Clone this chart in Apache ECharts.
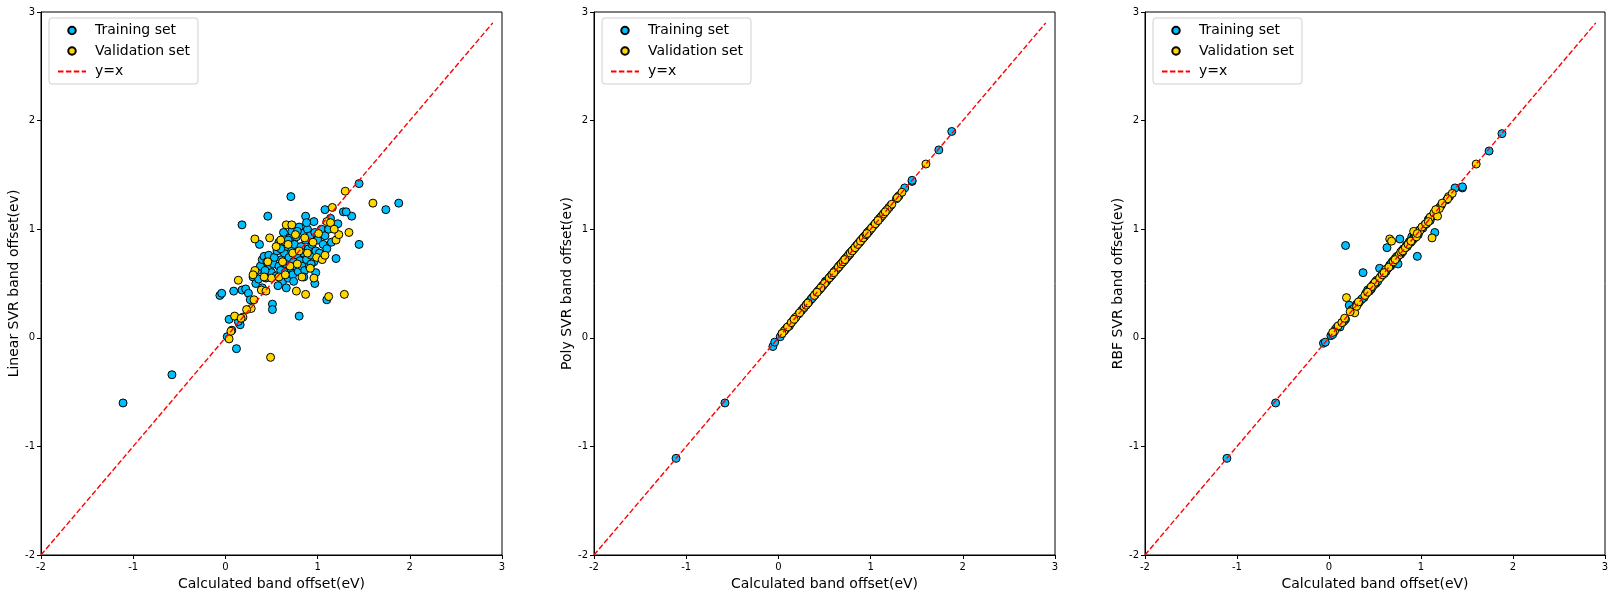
<!DOCTYPE html>
<html>
<head>
<meta charset="utf-8">
<script src="https://cdn.jsdelivr.net/npm/echarts@6/dist/echarts.min.js"></script>
<style>
html,body{margin:0;padding:0;background:#fff;}
#chart{width:1614px;height:597px;}
</style>
</head>
<body>
<div id="chart"></div>
<script>
// ---- Data ----
const panelTitles = ["Linear SVR band offset(ev)", "Poly SVR band offset(ev)", "RBF SVR band offset(ev)"];
const xAxisTitle = "Calculated band offset(eV)";
const tickValues = [-2, -1, 0, 1, 2, 3];

// Training set: calculated offsets
const calcTrain = [-1.11,-0.58,-0.06,-0.04,0.02,0.04,0.12,0.09,0.18,0.22,0.25,0.27,0.18,0.46,0.37,0.71,0.51,0.51,1.10,0.80,1.45,1.45,1.88,1.74,1.37,1.28,1.31,1.08,0.87,0.96,1.17,1.22,1.20,0.97,
0.35,0.38,0.40,0.42,0.44,0.45,0.47,0.48,0.50,0.52,0.53,0.55,0.56,0.58,0.58,0.60,0.61,0.62,0.63,0.64,0.65,0.66,0.67,0.68,0.69,0.70,0.71,0.72,0.72,0.73,0.74,0.75,0.76,0.77,0.78,0.79,0.80,0.81,0.82,0.83,0.84,0.85,0.86,0.87,0.88,0.89,0.90,0.91,0.92,0.93,0.94,0.96,0.97,0.98,1.00,1.02,1.04,1.06,1.08,1.10,1.12,1.15,
0.57,0.66,0.74,0.85,0.98,0.30,0.33,0.36,0.40,0.43,0.60,0.68,0.78,0.88,0.93,1.14,0.16,0.07,0.14];
// Training set: Linear SVR predictions
const linearTrain = [-0.60,-0.34,0.39,0.41,0.01,0.17,-0.10,0.43,0.44,0.45,0.41,0.35,1.04,1.12,0.86,1.30,0.31,0.26,0.35,0.20,1.42,0.86,1.24,1.18,1.12,1.16,1.16,1.18,1.12,1.07,1.04,1.05,0.73,0.50,
0.62,0.66,0.72,0.75,0.55,0.70,0.76,0.64,0.60,0.68,0.74,0.57,0.80,0.66,0.88,0.62,0.72,0.52,0.97,0.78,0.60,0.68,0.84,0.55,0.74,0.92,0.64,0.98,0.80,0.58,0.70,0.86,0.66,0.93,0.76,0.61,1.02,0.71,0.84,0.66,0.96,0.78,0.62,0.90,0.72,1.00,0.82,0.66,0.94,0.76,0.86,0.70,0.97,0.80,0.90,0.78,1.00,0.86,0.94,0.82,1.00,0.88,
0.48,0.46,0.52,0.56,0.60,0.56,0.50,0.54,0.46,0.62,0.82,0.90,0.98,1.06,0.68,1.10,0.12,0.07,0.15];
// Training set: Poly SVR predictions
const polyTrain = [-1.11,-0.60,-0.08,-0.04,0.01,0.04,0.11,0.09,0.18,0.22,0.25,0.27,0.18,0.46,0.37,0.71,0.51,0.52,1.10,0.80,1.44,1.45,1.90,1.73,1.38,1.28,1.31,1.08,0.87,0.96,1.17,1.22,1.20,0.97,
0.35,0.38,0.40,0.42,0.44,0.45,0.47,0.48,0.50,0.52,0.53,0.55,0.56,0.58,0.58,0.60,0.61,0.62,0.63,0.64,0.65,0.66,0.67,0.68,0.69,0.70,0.71,0.72,0.72,0.73,0.74,0.75,0.76,0.77,0.78,0.79,0.80,0.81,0.82,0.83,0.84,0.85,0.86,0.87,0.88,0.89,0.90,0.91,0.92,0.93,0.94,0.96,0.97,0.98,1.00,1.02,1.04,1.06,1.08,1.10,1.12,1.15,
0.57,0.66,0.74,0.85,0.98,0.30,0.33,0.36,0.40,0.43,0.60,0.68,0.78,0.88,0.93,1.14,0.16,0.07,0.14];
// Training set: RBF SVR predictions
const rbfTrain = [-1.11,-0.60,-0.05,-0.04,0.02,0.03,0.10,0.10,0.85,0.30,0.26,0.27,0.17,0.45,0.60,0.70,0.50,0.52,1.08,0.79,1.38,1.39,1.88,1.72,1.38,1.27,1.30,1.09,0.88,0.96,1.18,1.22,1.20,0.95,
0.35,0.37,0.40,0.44,0.43,0.46,0.47,0.49,0.50,0.53,0.52,0.64,0.56,0.58,0.59,0.60,0.62,0.61,0.83,0.64,0.65,0.67,0.66,0.68,0.70,0.71,0.70,0.73,0.72,0.74,0.74,0.68,0.76,0.91,0.78,0.80,0.80,0.82,0.82,0.83,0.85,0.84,0.86,0.87,0.89,0.88,0.93,0.90,0.92,0.94,0.94,0.75,0.97,0.98,1.00,1.01,1.04,1.05,1.08,1.11,1.12,0.97,
0.57,0.66,0.75,0.85,0.99,0.31,0.33,0.36,0.41,0.43,0.59,0.69,0.77,0.88,0.92,1.13,0.15,0.08,0.14];

// Validation set: calculated offsets
const calcVal = [1.30,1.60,1.34,1.29,0.49,0.06,0.04,0.10,0.19,0.14,0.28,0.31,0.32,0.30,0.32,0.39,0.44,0.48,0.66,0.87,1.10,1.20,1.23,0.77,1.12,0.17,0.23,
0.50,0.55,0.58,0.62,0.65,0.68,0.70,0.73,0.76,0.78,0.80,0.83,0.86,0.89,0.92,0.95,0.99,1.01,1.05,1.08,1.14,1.18,0.60,0.46,0.42,0.72,0.96,1.16];
// Validation set: Linear SVR predictions
const linearVal = [1.35,1.24,0.97,0.40,-0.18,0.06,-0.01,0.20,0.19,0.53,0.27,0.35,0.62,0.58,0.91,0.44,0.43,0.92,1.04,0.40,1.07,0.90,0.95,0.43,0.38,0.18,0.26,
0.55,0.84,0.56,0.70,0.58,0.86,0.66,0.78,0.95,0.68,0.80,0.56,0.92,0.78,0.64,0.88,0.74,0.96,0.72,0.76,1.06,1.00,0.90,0.70,0.56,1.04,0.55,1.20];
// Validation set: Poly SVR predictions
const polyVal = [1.30,1.60,1.34,1.29,0.49,0.06,0.04,0.10,0.19,0.14,0.28,0.31,0.32,0.30,0.32,0.39,0.44,0.48,0.66,0.87,1.10,1.20,1.23,0.77,1.12,0.17,0.23,
0.50,0.55,0.58,0.62,0.65,0.68,0.70,0.73,0.76,0.78,0.80,0.83,0.86,0.89,0.92,0.95,0.99,1.01,1.05,1.08,1.14,1.18,0.60,0.46,0.42,0.72,0.96,1.16];
// Validation set: RBF SVR predictions
const rbfVal = [1.30,1.60,1.33,1.28,0.50,0.06,0.05,0.11,0.37,0.14,0.23,0.31,0.32,0.29,0.33,0.39,0.44,0.48,0.91,0.87,1.11,1.19,1.24,0.77,0.92,0.18,0.24,
0.51,0.55,0.58,0.63,0.65,0.89,0.70,0.73,0.76,0.79,0.80,0.83,0.86,0.89,0.98,0.93,0.99,1.02,1.05,1.07,1.15,1.12,0.60,0.47,0.42,0.72,0.96,1.18];

// Reference line y = x
const refLine = [[-2, -2], [2.9, 2.9]];

const seriesNames = ["Training set", "Validation set", "y=x"];
const trainColor = "#00BFFF";
const valColor = "#FFD700";
const lineColor = "#FF0000";

function pairs(xs, ys) { return xs.map((x, i) => [x, ys[i]]); }

const panels = [
  { train: pairs(calcTrain, linearTrain), val: pairs(calcVal, linearVal) },
  { train: pairs(calcTrain, polyTrain),   val: pairs(calcVal, polyVal) },
  { train: pairs(calcTrain, rbfTrain),    val: pairs(calcVal, rbfVal) }
];

const gridLefts = [41, 594, 1145];
const gridWidths = [461, 461, 460];
const fontFam = "DejaVu Sans";

const grids = [], xAxes = [], yAxes = [], series = [], legends = [];
panels.forEach((p, i) => {
  grids.push({ left: gridLefts[i], top: 12, width: gridWidths[i], height: 543,
    show: true, borderColor: "#000", borderWidth: 1, backgroundColor: "transparent" });
  const axisCommon = {
    type: "value", min: -2, max: 3, interval: 1,
    splitLine: { show: false },
    axisLine: { show: true, onZero: false, lineStyle: { color: "#000", width: 1 } },
    axisTick: { show: true, length: 4, lineStyle: { color: "#000" } },
    axisLabel: { color: "#000", fontSize: 10, fontFamily: fontFam, margin: 6,
      formatter: v => String(v) },
    nameLocation: "middle",
    nameTextStyle: { color: "#000", fontSize: 14, fontFamily: fontFam }
  };
  xAxes.push(Object.assign({}, axisCommon, { gridIndex: i, name: xAxisTitle, nameGap: 21,
    axisLabel: Object.assign({}, axisCommon.axisLabel, { margin: 7 }) }));
  yAxes.push(Object.assign({}, axisCommon, { gridIndex: i, name: panelTitles[i], nameGap: 19 }));
  series.push({
    name: seriesNames[0], type: "scatter", xAxisIndex: i, yAxisIndex: i,
    data: p.train, symbol: "circle", symbolSize: 8,
    itemStyle: { color: trainColor, borderColor: "#000", borderWidth: 1, opacity: 1 },
    emphasis: { disabled: true }, z: 2
  });
  series.push({
    name: seriesNames[1], type: "scatter", xAxisIndex: i, yAxisIndex: i,
    data: p.val, symbol: "circle", symbolSize: 8,
    itemStyle: { color: valColor, borderColor: "#000", borderWidth: 1, opacity: 1 },
    emphasis: { disabled: true }, z: 3
  });
  series.push({
    name: seriesNames[2], type: "line", xAxisIndex: i, yAxisIndex: i,
    data: refLine, symbol: "none", silent: true,
    lineStyle: { color: lineColor, width: 1.4, type: [5.5, 2.4] },
    itemStyle: { color: lineColor }, z: 4
  });
  legends.push({
    show: true, orient: "vertical", left: gridLefts[i] + 8, top: 18,
    data: [
      { name: seriesNames[0], icon: "circle" },
      { name: seriesNames[1], icon: "circle" },
      { name: seriesNames[2], itemStyle: { color: "rgba(0,0,0,0)", borderWidth: 0, opacity: 0 } }
    ],
    itemWidth: 28, itemHeight: 7.5, itemGap: 6.5,
    padding: [5.5, 8, 5.5, 8],
    borderColor: "#d0d0d0", borderWidth: 1, borderRadius: 3,
    backgroundColor: "rgba(255,255,255,0.8)",
    textStyle: { fontSize: 14, color: "#000", fontFamily: fontFam, padding: [0, 0, 0, 4] },
    selectedMode: false
  });
});

const chart = echarts.init(document.getElementById("chart"), null, { renderer: "canvas" });
chart.setOption({
  animation: false,
  backgroundColor: "#fff",
  grid: grids, xAxis: xAxes, yAxis: yAxes, series: series, legend: legends
});
</script>
</body>
</html>
